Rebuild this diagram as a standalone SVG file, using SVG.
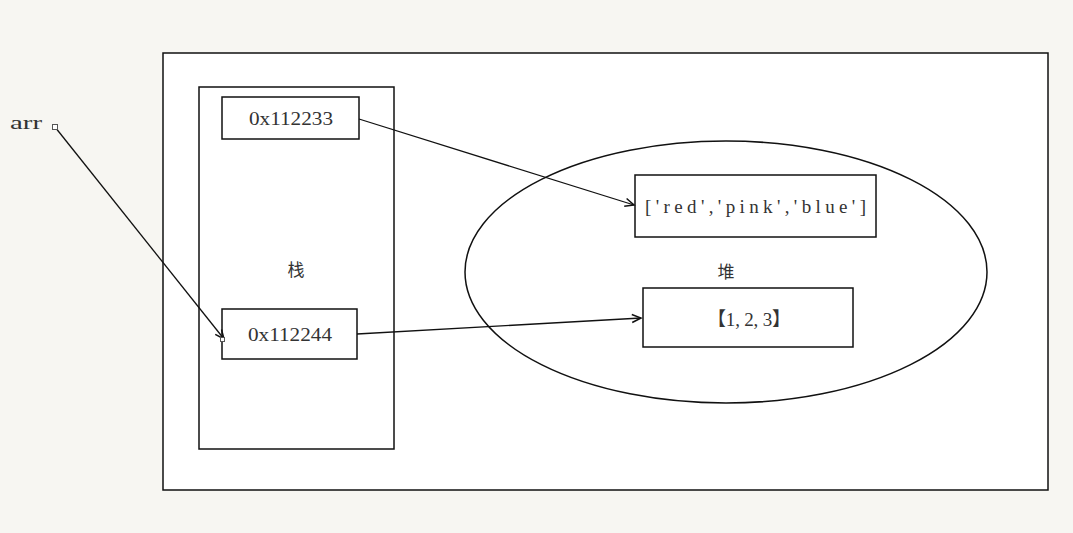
<svg xmlns="http://www.w3.org/2000/svg" width="1073" height="533" viewBox="0 0 1073 533">
<defs>
<marker id="ah" markerWidth="12" markerHeight="12" refX="10" refY="5" orient="auto" markerUnits="userSpaceOnUse">
<polyline points="1,1 10,5 1,9" fill="none" stroke="#111" stroke-width="1.5"/>
</marker>
</defs>
<style>
.box{fill:#fff;stroke:#111;stroke-width:1.5}
.t{font-family:"Liberation Serif","Noto Sans CJK SC",serif;font-size:19px;fill:#333}
.c{font-family:"Noto Sans CJK SC",serif;font-size:17px;fill:#333}
.ln{fill:none;stroke:#111;stroke-width:1.3}
.h{fill:#fff;stroke:#555;stroke-width:1}
</style>
<rect width="1073" height="533" fill="#f7f6f2"/>
<g id="frame"><rect x="163" y="53" width="885" height="437" class="box"/></g>
<g id="stack"><rect x="199" y="87" width="195" height="362" class="box"/><text class="c" x="296" y="276" text-anchor="middle">栈</text></g>
<g id="heap"><ellipse cx="726" cy="272" rx="261" ry="131" class="box"/><text class="c" x="726" y="278" text-anchor="middle">堆</text></g>
<g id="addr1"><rect x="222" y="97" width="137" height="42" class="box"/><text class="t" x="249" y="125" textLength="84" lengthAdjust="spacingAndGlyphs">0x112233</text></g>
<g id="addr2"><rect x="222" y="309" width="135" height="50" class="box"/><text class="t" x="248" y="341" textLength="84" lengthAdjust="spacingAndGlyphs">0x112244</text></g>
<g id="list"><rect x="635" y="175" width="241" height="62" class="box"/><text class="t" x="645" y="213" textLength="221" lengthAdjust="spacing">['red','pink','blue']</text></g>
<g id="arr123"><rect x="643" y="288" width="210" height="59" class="box"/><text class="t" x="707" y="326" textLength="84" lengthAdjust="spacing">【1, 2, 3】</text></g>
<g id="arrlabel"><text class="t" x="10" y="129" textLength="32" lengthAdjust="spacingAndGlyphs">arr</text></g>
<g id="connectors">
<line x1="359" y1="119" x2="634" y2="205" class="ln" marker-end="url(#ah)"/>
<line x1="357" y1="334" x2="641" y2="318" class="ln" marker-end="url(#ah)"/>
<line x1="55" y1="127" x2="224" y2="339" class="ln" marker-end="url(#ah)"/>
<rect x="52.5" y="124.5" width="5" height="5" class="h"/>
<rect x="220.5" y="337.5" width="4" height="4" class="h"/>
</g>
</svg>
